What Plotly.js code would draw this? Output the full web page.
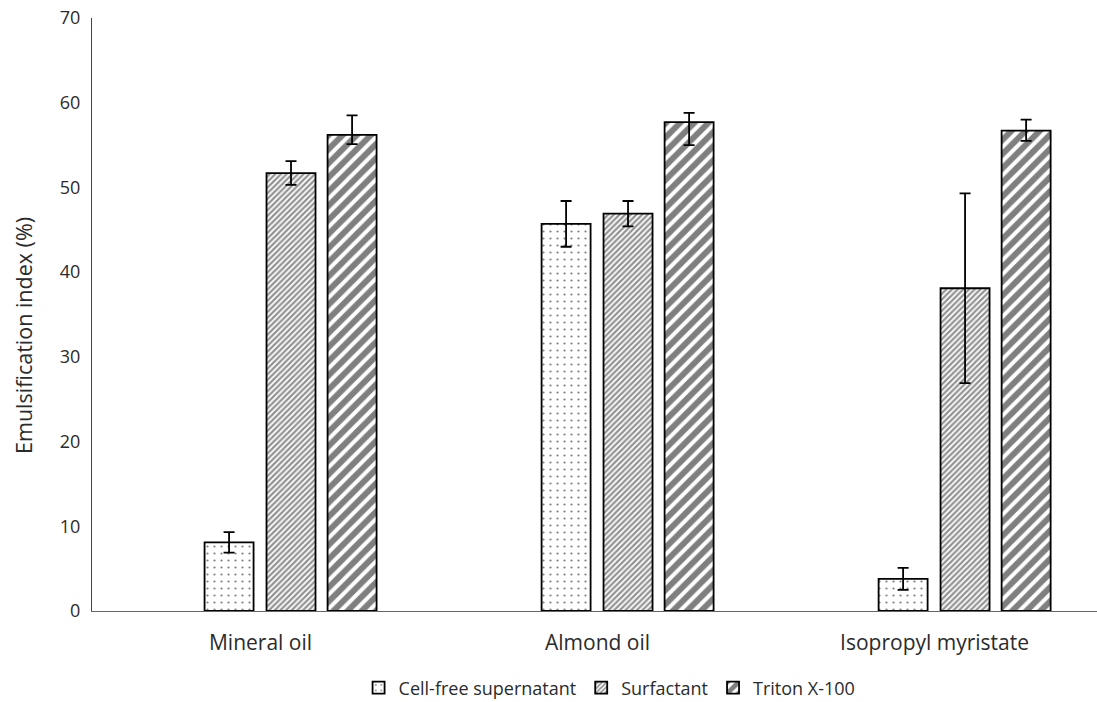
<!DOCTYPE html>
<html>
<head>
<meta charset="utf-8">
<script src="https://cdn.plot.ly/plotly-3.0.1.min.js"></script>
<style>html,body{margin:0;padding:0;background:#fff;}#chart{width:1097px;height:702px;}</style>
</head>
<body>
<div id="chart"></div>
<script>
// Data
const categories = ["Mineral oil", "Almond oil", "Isopropyl myristate"];
const seriesNames = ["Cell-free supernatant", "Surfactant", "Triton X-100"];
const cellFree = [8.1, 45.7, 3.8];
const cellFreeErr = [1.2, 2.7, 1.3];
const surfactant = [51.7, 46.9, 38.1];
const surfactantErr = [1.4, 1.5, 11.2];
const triton = [56.2, 57.7, 56.7];
const tritonErrPlus = [2.3, 1.1, 1.3];
const tritonErrMinus = [1.1, 2.7, 1.2];
const yTicks = [0, 10, 20, 30, 40, 50, 60, 70];
const yTitle = "Emulsification index (%)";

const FONT = "Open Sans, sans-serif";
const TXT = "#2b2b2b";
const barW = 0.1454;
const errStyle = {color: "#000", thickness: 1.8, width: 5.5};
const lineStyle = {color: "#000", width: 1.8};

const traces = [
  {
    type: "bar", name: seriesNames[0], x: categories, y: cellFree,
    width: barW, offset: -0.166,
    error_y: Object.assign({type: "data", array: cellFreeErr, visible: true}, errStyle),
    marker: {color: "#ffffff", line: lineStyle,
      pattern: {shape: ".", size: 7, solidity: 0.08, fgcolor: "#000", bgcolor: "#ffffff", fillmode: "overlay"}}
  },
  {
    type: "bar", name: seriesNames[1], x: categories, y: surfactant,
    width: barW, offset: 0.0178,
    error_y: Object.assign({type: "data", array: surfactantErr, visible: true}, errStyle),
    marker: {color: "#ffffff", line: lineStyle,
      pattern: {shape: "/", size: 4, solidity: 0.55, fgcolor: "#262626", bgcolor: "#ffffff", fillmode: "overlay"}}
  },
  {
    type: "bar", name: seriesNames[2], x: categories, y: triton,
    width: barW, offset: 0.199,
    error_y: Object.assign({type: "data", symmetric: false, array: tritonErrPlus, arrayminus: tritonErrMinus, visible: true}, errStyle),
    marker: {color: "#ffffff", line: lineStyle,
      pattern: {shape: "/", size: 10, solidity: 0.6, fgcolor: "#000000", bgcolor: "#ffffff", fillmode: "overlay"}}
  }
];

const layout = {
  width: 1097, height: 702,
  margin: {l: 92, r: 0, t: 18, b: 91, autoexpand: false},
  paper_bgcolor: "#ffffff", plot_bgcolor: "#ffffff",
  font: {family: FONT, color: TXT, size: 17},
  barmode: "overlay",
  showlegend: true,
  legend: {orientation: "h", x: 0.515, xanchor: "center", yref: "container", y: 0.02, yanchor: "middle",
    font: {family: FONT, size: 18, color: TXT}, traceorder: "normal", itemclick: false, itemwidth: 30},
  xaxis: {
    type: "category", range: [-0.5, 2.482],
    showline: true, linecolor: "#666666", linewidth: 1,
    ticks: "", showgrid: false, zeroline: false,
    tickfont: {family: FONT, size: 21, color: TXT},
    ticklabelstandoff: 13
  },
  yaxis: {
    range: [0, 70], tickvals: yTicks, ticktext: yTicks.map(String),
    showline: true, linecolor: "#444444", linewidth: 1,
    ticks: "", showgrid: false, zeroline: false,
    tickfont: {family: FONT, size: 18, color: TXT},
    ticklabelstandoff: 7
  },
  annotations: [{
    text: yTitle, textangle: -90, showarrow: false,
    xref: "paper", yref: "paper", x: -0.068, y: 0.465, xanchor: "center", yanchor: "middle",
    font: {family: FONT, size: 21.5, color: TXT}
  }]
};

Plotly.newPlot("chart", traces, layout, {displayModeBar: false, staticPlot: true});
</script>
</body>
</html>
